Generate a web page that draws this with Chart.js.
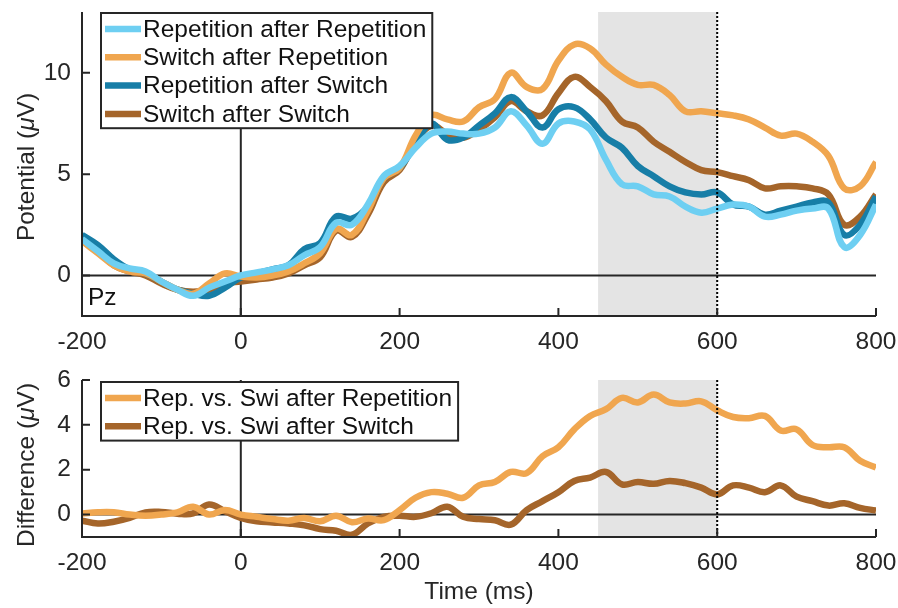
<!DOCTYPE html>
<html>
<head>
<meta charset="utf-8">
<script src="https://cdn.jsdelivr.net/npm/chart.js@4.4.1/dist/chart.umd.min.js"></script>
<style>
  html, body { margin: 0; padding: 0; background: #fff; }
  #wrap { position: relative; width: 898px; height: 608px; }
  .panel { position: absolute; left: 0; width: 898px; }
  #top { top: 0; height: 355px; }
  #bot { top: 355px; height: 253px; }
</style>
</head>
<body>
<div id="wrap">
  <div class="panel" id="top"><canvas id="erp"></canvas></div>
  <div class="panel" id="bot"><canvas id="diff"></canvas></div>
</div>
<script>
// time axis (ms)
const times = [-200,-180,-160,-140,-120,-100,-80,-60,-40,-20,0,20,40,60,80,100,120,140,160,180,200,220,240,260,280,300,320,340,360,380,400,420,440,460,480,500,520,540,560,580,600,620,640,660,680,700,720,740,760,780,800];

// ERP at Pz (µV)
const repAfterRep = [1.8,1.2,0.6,0.35,0.2,-0.3,-0.7,-1.0,-0.6,-0.3, 0.0,0.15,0.3,0.5,1.0,1.4,2.6,2.5,3.5,4.9, 5.4,6.3,7.0,7.1,7.0,7.0,7.3,8.1,7.4,6.5, 7.5,7.6,7.2,5.7,4.5,4.4,4.0,3.9,3.4,3.1, 3.3,3.5,3.4,2.9,3.0,3.2,3.3,3.3,1.4,2.0, 3.5];
const swiAfterRep = [1.7,1.1,0.5,0.2,0.1,-0.3,-0.7,-0.9,-0.4,0.1, -0.05,-0.1,0.0,0.2,0.6,1.1,2.3,2.0,3.2,4.8, 5.3,6.9,7.9,7.7,7.6,8.3,8.7,10.0,9.3,9.2, 10.6,11.4,11.2,10.4,9.8,9.4,9.4,8.9,8.1,8.1, 8.0,7.9,7.7,7.3,6.9,7.0,6.6,5.9,4.3,4.4, 5.6];
const repAfterSwi = [2.0,1.5,0.8,0.3,0.1,-0.3,-0.7,-0.9,-1.0,-0.6, -0.1,0.1,0.3,0.5,1.3,1.6,2.9,2.8,3.4,4.8, 5.3,6.5,7.5,6.7,6.8,7.4,8.0,8.8,8.1,7.3, 8.2,8.3,7.7,6.8,6.3,5.4,4.9,4.4,4.1,4.0, 4.1,3.5,3.4,3.0,3.2,3.4,3.6,3.6,2.0,2.5, 3.9];
const swiAfterSwi = [1.8,1.2,0.5,0.2,0.0,-0.4,-0.7,-0.8,-0.7,-0.4, -0.3,-0.2,-0.1,0.1,0.5,0.9,2.2,1.9,3.0,4.6, 5.2,6.6,7.4,7.0,6.8,7.2,7.8,8.6,8.1,7.9, 9.0,9.8,9.3,8.6,7.6,7.3,6.6,6.1,5.6,5.2, 5.1,4.9,4.7,4.3,4.4,4.4,4.3,4.0,2.5,2.9, 4.0];

// repetition vs. switch differences (µV)
const diffAfterRep = [0.05,0.1,0.1,0.0,-0.05,0.0,0.1,0.35,0.0,0.2, 0.0,-0.1,-0.2,-0.27,-0.15,-0.3,-0.05,-0.34,-0.18,-0.25, 0.2,0.75,1.0,0.93,0.75,1.3,1.45,1.9,1.85,2.6, 3.0,3.8,4.4,4.7,5.2,5.0,5.35,5.0,4.95,5.05, 4.65,4.35,4.3,4.4,3.75,3.8,3.1,3.0,3.0,2.4, 2.1];
const diffAfterSwi = [-0.27,-0.4,-0.32,-0.15,0.1,0.12,0.04,0.05,0.45,0.15, -0.15,-0.3,-0.35,-0.4,-0.48,-0.65,-0.72,-0.9,-0.4,-0.1, -0.05,-0.1,0.06,0.35,-0.1,-0.2,-0.25,-0.45,0.2,0.6, 1.0,1.5,1.65,1.9,1.35,1.45,1.37,1.5,1.4,1.2, 0.9,1.3,1.2,1.0,1.3,0.8,0.6,0.4,0.5,0.3, 0.18];

// ticks and analysis window
const xTicks = [-200, 0, 200, 400, 600, 800];
const erpTicks = [0, 5, 10];
const diffTicks = [0, 2, 4, 6];
const win = [450, 600];

const FONT = '"Liberation Sans", Arial, Helvetica, sans-serif';
const FS = 24.5;
const INK = '#262626';
const C = {
  light: '#6ecff2',
  orange: '#f0a64f',
  dark: '#177ea7',
  brown: '#a5652a'
};

function pts(ys) {
  return times.map((t, i) => ({ x: t, y: ys[i] }));
}

function line(label, ys, color) {
  return {
    label: label,
    data: pts(ys),
    borderColor: color,
    borderWidth: 6.5,
    pointRadius: 0,
    tension: 0.4,
    fill: false
  };
}

function drawTitle(ctx, parts, cx, cy, vertical) {
  ctx.save();
  ctx.translate(cx, cy);
  if (vertical) ctx.rotate(-Math.PI / 2);
  let total = 0;
  parts.forEach(p => { ctx.font = p[1]; p.w = ctx.measureText(p[0]).width; total += p.w; });
  let x = -total / 2;
  ctx.textBaseline = 'middle';
  ctx.textAlign = 'left';
  ctx.fillStyle = INK;
  parts.forEach(p => { ctx.font = p[1]; ctx.fillText(p[0], x, 0); x += p.w; });
  ctx.restore();
}

// matlab-ish decorations: shading, zero lines, inward ticks, boxed legend
const decor = {
  id: 'decor',
  beforeDatasetsDraw(chart, args, o) {
    const { ctx, chartArea: a, scales: { x, y } } = chart;
    ctx.save();
    const x1 = x.getPixelForValue(win[0]), x2 = x.getPixelForValue(win[1]);
    ctx.fillStyle = '#e4e4e4';
    ctx.fillRect(x1, a.top, x2 - x1, a.bottom - a.top);
    ctx.strokeStyle = INK;
    ctx.lineWidth = 2;
    const y0 = y.getPixelForValue(0), x0 = x.getPixelForValue(0);
    ctx.beginPath();
    ctx.moveTo(a.left, y0); ctx.lineTo(a.right, y0);
    ctx.moveTo(x0, a.top); ctx.lineTo(x0, a.bottom);
    ctx.stroke();
    ctx.restore();
  },
  afterDatasetsDraw(chart, args, o) {
    const { ctx, chartArea: a, scales: { x, y } } = chart;
    ctx.save();
    // dotted marker at end of window
    const xm = x.getPixelForValue(win[1]);
    ctx.strokeStyle = '#000';
    ctx.lineWidth = 2;
    ctx.setLineDash([2, 2]);
    ctx.beginPath();
    ctx.moveTo(xm, a.top); ctx.lineTo(xm, a.bottom);
    ctx.stroke();
    ctx.setLineDash([]);

    // axes + inward ticks
    ctx.strokeStyle = INK;
    ctx.lineWidth = 2;
    ctx.beginPath();
    ctx.moveTo(a.left, a.top); ctx.lineTo(a.left, a.bottom); ctx.lineTo(a.right, a.bottom);
    x.ticks.forEach(t => {
      const px = x.getPixelForValue(t.value);
      ctx.moveTo(px, a.bottom); ctx.lineTo(px, a.bottom - 8);
    });
    y.ticks.forEach(t => {
      const py = y.getPixelForValue(t.value);
      ctx.moveTo(a.left, py); ctx.lineTo(a.left + 8, py);
    });
    ctx.stroke();

    // legend box
    const ds = chart.data.datasets;
    ctx.font = FS + 'px ' + FONT;
    const tw = Math.max(...ds.map(d => ctx.measureText(d.label).width));
    const bx = a.left + 19, by = a.top + o.legendTop;
    const bw = 42 + tw + 6, bh = ds.length * 28.3 + 2;
    ctx.fillStyle = '#fff';
    ctx.fillRect(bx, by, bw, bh);
    ctx.strokeStyle = INK;
    ctx.lineWidth = 2;
    ctx.strokeRect(bx, by, bw, bh);
    ctx.textBaseline = 'middle';
    ctx.textAlign = 'left';
    ds.forEach((d, i) => {
      const ry = by + 16 + i * 28.3;
      ctx.strokeStyle = d.borderColor;
      ctx.lineWidth = 6.5;
      ctx.beginPath();
      ctx.moveTo(bx + 4, ry); ctx.lineTo(bx + 40, ry);
      ctx.stroke();
      ctx.fillStyle = '#111';
      ctx.fillText(d.label, bx + 42, ry + 1);
    });

    if (o.tag) {
      ctx.fillStyle = '#111';
      ctx.fillText(o.tag, a.left + 6, a.bottom - 18);
    }

    // axis titles
    const f = FS + 'px ' + FONT, fi = 'italic ' + FS + 'px ' + FONT;
    drawTitle(ctx, [[o.yTitle + ' (', f], ['\u03bc', fi], ['V)', f]], 27, o.yTitleY, true);
    if (o.xTitle) drawTitle(ctx, [[o.xTitle, f]], (a.left + a.right) / 2, o.xTitleY, false);
    ctx.restore();
  }
};

function opts(yMin, yMax, yTicks, xAxisH, padTop, pluginOpts) {
  return {
    responsive: true,
    maintainAspectRatio: false,
    animation: false,
    layout: { padding: { top: padTop, right: 22, left: 0, bottom: 0 } },
    plugins: {
      legend: { display: false },
      tooltip: { enabled: false },
      decor: pluginOpts
    },
    scales: {
      x: {
        type: 'linear',
        min: -200,
        max: 800,
        afterBuildTicks: s => { s.ticks = xTicks.map(v => ({ value: v })); },
        afterFit: s => { s.height = xAxisH; s.paddingLeft = 0; s.paddingRight = 0; },
        grid: { display: false, drawTicks: false },
        border: { display: false },
        ticks: { color: INK, font: { family: FONT, size: FS }, padding: 12, maxRotation: 0 }
      },
      y: {
        min: yMin,
        max: yMax,
        afterBuildTicks: s => { s.ticks = yTicks.map(v => ({ value: v })); },
        afterFit: s => { s.width = 82; s.paddingTop = 0; s.paddingBottom = 0; },
        grid: { display: false, drawTicks: false },
        border: { display: false },
        ticks: { color: INK, font: { family: FONT, size: FS }, padding: 11 }
      }
    }
  };
}

new Chart(document.getElementById('erp').getContext('2d'), {
  type: 'line',
  data: {
    datasets: [
      line('Repetition after Repetition', repAfterRep, C.light),
      line('Switch after Repetition', swiAfterRep, C.orange),
      line('Repetition after Switch', repAfterSwi, C.dark),
      line('Switch after Switch', swiAfterSwi, C.brown)
    ]
  },
  options: opts(-2, 13, erpTicks, 39, 12, { legendTop: 1, tag: 'Pz', yTitle: 'Potential', yTitleY: 167 }),
  plugins: [decor]
});

new Chart(document.getElementById('diff').getContext('2d'), {
  type: 'line',
  data: {
    datasets: [
      line('Rep. vs. Swi after Repetition', diffAfterRep, C.orange),
      line('Rep. vs. Swi after Switch', diffAfterSwi, C.brown)
    ]
  },
  options: opts(-1, 6, diffTicks, 71, 25, { legendTop: 2, yTitle: 'Difference', yTitleY: 110, xTitle: 'Time (ms)', xTitleY: 237 }),
  plugins: [decor]
});
</script>
</body>
</html>
